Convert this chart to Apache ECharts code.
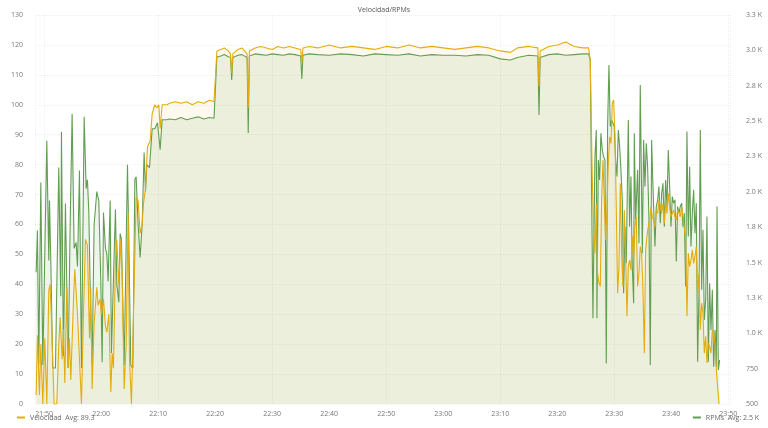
<!DOCTYPE html>
<html>
<head>
<meta charset="utf-8">
<script src="https://cdn.jsdelivr.net/npm/echarts@6/dist/echarts.min.js"></script>
<style>html,body{margin:0;padding:0;background:#fff}#chart{width:768px;height:428px}</style>
</head>
<body>
<div id="chart"></div>
<script>
// x values are minutes after 21:50
var xTicks = [0, 10, 20, 30, 40, 50, 60, 70, 80, 90, 100, 110, 120];

var velT = [-1.40,-1.17,-0.82,-0.58,-0.23,0.12,0.47,0.82,1.05,1.29,1.52,1.75,2.22,2.57,2.81,3.16,3.39,3.63,3.98,4.21,4.44,4.68,5.15,5.38,5.85,6.20,6.55,6.90,7.25,7.60,7.95,8.19,8.42,8.77,9.24,9.47,9.82,10.06,10.41,10.76,11.00,11.35,11.70,11.93,12.16,12.51,12.75,13.10,13.45,13.68,14.04,14.39,14.74,14.97,15.32,15.67,16.14,16.49,16.84,17.19,17.43,17.78,18.13,18.36,18.60,18.95,19.42,19.77,20.12,20.35,20.70,21.52,
  22,23,24,25,26,27,28,29,29.8,30.3,31,31.6,32.3,32.7,32.9,33.1,34,34.7,35.6,35.8,36.0,37,38,39,40,41,42,43,44,45.0,45.2,45.4,46.5,48,50,52,54,56,58,60,62,64,66,68,70,72,74,76,78,80,81.8,83,85,86.6,86.8,87.0,88.5,90,91.5,93,94.5,95.5,
  95.79,96.14,96.38,96.61,96.85,97.08,97.31,97.55,97.78,98.02,98.25,98.48,98.72,98.95,99.19,99.42,99.65,99.89,100.12,100.35,100.59,100.82,101.06,101.29,101.52,101.76,101.99,102.23,102.46,102.69,102.93,103.16,103.40,103.63,103.86,104.10,104.33,104.56,104.80,105.03,105.27,105.50,105.73,105.97,106.20,106.44,106.67,106.90,107.14,107.37,107.61,107.84,108.07,108.31,108.54,108.78,109.01,109.24,109.48,109.71,109.95,110.18,110.41,110.65,110.88,111.11,111.35,111.58,111.82,112.05,112.52,112.75,112.99,113.22,113.45,113.69,113.92,114.16,114.39,114.62,114.86,115.09,115.33,115.56,115.79,116.03,116.26,116.50,116.73,116.96,117.20,117.43,117.67,117.90,118.13,118.37];
var vel = [3,23,3,20,0,22,0,38,40,28,28,0,0,20,29,15,25,7,39,12,22,8,35,45,30,30,0,30,55,53,22,39,5,27,39,33,35,30,35,26,24,30,4,17,12,48,55,40,55,43,5,20,64,15,0,0,69,68,57,60,67,72,86,87,88,97,100,99,100,92,100,100,
  100.5,101,100.5,101,100,101,100.5,101.5,101,118,118.5,119,118,117,110.6,117,118.5,119,117,99,118,119,119.5,119,118.5,119.5,119,119.5,119,118.5,114,119,119.5,119,120,119,119.5,119,118.5,119.5,119,120,119,119.5,119,118.5,119,119.5,119,118,117.5,119,119.5,119,106,118,119.5,120,121,119.5,119,119,
  115,76,59.3,50.4,67,43.7,40.4,39.3,68.2,81.5,68.2,54.8,64.8,80.4,89.3,87.1,100.5,101.6,90,65.9,37,45.9,73.7,50.4,39.3,64.8,50.4,29.3,45.9,48.1,44.8,56,48.1,59.3,62.6,39.3,43.7,52.6,50.4,38.1,17,51.5,56,59.3,61.5,65.9,62.6,61.5,59.3,64.8,63.7,68.2,65.9,63.7,67,60.4,68.2,63.7,70.4,65.9,62.6,63.7,64.8,62.6,61.5,64.8,63.7,62.6,65.9,62.6,54.8,29.3,50.4,45.9,48.1,51.5,47,49.3,52.6,37,43.7,24.8,33.7,30.4,17,22.6,13.7,20.4,19.3,17,24.8,23.7,20.4,11.5,11.5,0];

var rpmT = [-1.40,-1.17,-0.94,-0.58,-0.23,0.12,0.47,0.82,0.94,1.17,1.52,1.99,2.34,2.57,2.92,3.04,3.39,3.74,4.21,4.56,4.91,5.26,5.61,5.85,6.20,6.55,7.02,7.37,7.60,7.84,8.19,8.42,8.77,9.24,9.59,9.94,10.18,10.41,10.76,11.00,11.23,11.58,11.81,12.16,12.51,12.75,13.10,13.33,13.57,14.04,14.62,14.85,15.20,15.56,15.91,16.14,16.49,16.84,17.19,17.54,17.78,18.01,18.48,18.95,19.42,19.88,20.35,20.70,21.52,
  22,23,24,25,26,27,28,29,29.8,30.3,31,31.6,32.3,32.7,32.9,33.1,34,34.7,35.6,35.8,36.0,37,38,39,40,41,42,43,44,45.0,45.2,45.4,46.5,48,50,52,54,56,58,60,62,64,66,68,70,72,74,76,78,80,81.8,83,85,86.6,86.8,87.0,88.5,90,91.5,93,94.5,95.5,
  95.79,96.26,96.61,96.85,96.96,97.20,97.43,97.66,97.90,98.13,98.37,98.60,98.83,99.07,99.30,99.54,99.77,100.00,100.24,100.47,100.71,100.94,101.17,101.41,101.64,101.88,102.11,102.46,102.69,102.93,103.16,103.40,103.51,103.75,104.10,104.33,104.56,104.92,105.15,105.38,105.62,105.85,106.09,106.32,106.55,106.79,107.14,107.37,107.61,107.84,108.07,108.31,108.54,108.78,109.01,109.24,109.48,109.71,109.95,110.18,110.41,110.65,110.88,111.11,111.35,111.58,111.82,112.05,112.28,112.52,112.75,112.99,113.22,113.45,113.69,113.92,114.16,114.39,114.62,114.86,115.09,115.33,115.56,115.79,116.03,116.26,116.50,116.73,116.96,117.20,117.43,117.67,117.90,118.02,118.25,118.48];
var rpm = [1431,1727,775,2065,775,775,2361,1515,1938,1515,754,754,754,2171,1261,2425,838,1917,754,1748,2552,1600,1642,1473,2150,754,2530,2023,2086,1854,1092,775,1769,2002,1938,1367,796,1854,1600,1558,1367,1938,860,1388,1875,1346,1219,1706,1663,775,2192,1684,775,754,2086,2107,1769,1536,1769,2277,2002,2192,2171,2446,2446,2488,2298,2510,2510,
  2515,2510,2525,2510,2520,2530,2515,2525,2520,2953,2960,2970,2955,2950,2790,2950,2965,2970,2950,2416,2960,2975,2970,2965,2975,2970,2965,2975,2970,2960,2797,2965,2975,2970,2965,2975,2970,2960,2975,2970,2965,2975,2960,2970,2965,2965,2960,2970,2965,2940,2932,2950,2965,2960,2543,2950,2970,2975,2965,2970,2975,2975,
  2932,1106,2249,2437,1106,2225,2084,2414,2296,2249,2225,787,2461,2897,2461,2508,2508,2461,2225,2108,2437,2320,2155,1943,1283,1754,1495,2508,1754,2108,1472,1212,2414,1802,2155,1637,2755,1566,2367,2037,2343,2178,1802,775,2367,2037,1613,1896,1943,2037,1778,1990,2061,1754,2084,1896,2296,2037,1754,1967,1920,1943,1507,1896,1849,1896,1920,1754,1849,1330,2426,1684,2178,1613,1849,2014,1707,1920,799,1283,2437,1307,1731,1094,1236,1826,799,1354,1023,1307,764,1023,764,1896,740,811];

function pairs(t, v) {
  var out = [];
  for (var i = 0; i < t.length; i++) out.push([t[i], v[i]]);
  return out;
}
function clock(m) {
  var total = 21 * 60 + 50 + Math.round(m);
  var h = Math.floor(total / 60) % 24, mm = total % 60;
  return h + ':' + (mm < 10 ? '0' : '') + mm;
}

var myChart = echarts.init(document.getElementById('chart'));
var labelStyle = {color: '#777', fontSize: 7, fontFamily: 'Open Sans'};

var option = {
  animation: false,
  title: {
    text: 'Velocidad/RPMs', left: 'center', top: 1,
    textStyle: {fontSize: 7, fontWeight: 'normal', color: '#555', fontFamily: 'Open Sans'}
  },
  grid: {left: 35, right: 38, top: 15, bottom: 24, outerBoundsMode: 'none', containLabel: false},
  legend: [
    {data: ['Velocidad'], left: 12, bottom: 2, itemWidth: 8, itemHeight: 2, icon: 'rect',
     formatter: '{name}  Avg: 89.3', textStyle: {fontSize: 7, color: '#666', fontFamily: 'Open Sans'}},
    {data: ['RPMs'], right: 4, bottom: 2, itemWidth: 8, itemHeight: 2, icon: 'rect',
     formatter: '{name}  Avg: 2.5 K', textStyle: {fontSize: 7, color: '#666', fontFamily: 'Open Sans'}}
  ],
  xAxis: {
    type: 'value', min: -1.6, max: 120.3,
    axisLine: {show: false}, axisTick: {show: false},
    axisLabel: Object.assign({customValues: xTicks, formatter: clock, margin: 6}, labelStyle),
    splitLine: {show: true, lineStyle: {color: '#f0f0f0', type: 'dotted'}}
  },
  yAxis: [
    {type: 'value', min: 0, max: 130, interval: 10, name: 'km/h', nameLocation: 'middle', nameGap: 22,
     nameTextStyle: {fontSize: 7, color: '#777'},
     axisLine: {show: false}, axisTick: {show: false}, axisLabel: Object.assign({margin: 12}, labelStyle),
     splitLine: {lineStyle: {color: '#f0f0f0', type: 'dotted'}}},
    {type: 'value', min: 500, max: 3250, interval: 250, name: 'RPM', nameLocation: 'middle', nameGap: 28,
     nameRotate: -90, nameTextStyle: {fontSize: 7, color: '#777'},
     axisLine: {show: false}, axisTick: {show: false}, splitLine: {show: false},
     axisLabel: Object.assign({margin: 16, formatter: function (v) {
       return v < 1000 ? String(v) : (v / 1000).toFixed(1) + ' K';
     }}, labelStyle)}
  ],
  series: [
    {name: 'RPMs', type: 'line', yAxisIndex: 1, data: pairs(rpmT, rpm), showSymbol: false,
     lineStyle: {color: '#629e51', width: 1.1}, itemStyle: {color: '#629e51'},
     areaStyle: {color: 'rgba(98,158,81,0.15)'}},
    {name: 'Velocidad', type: 'line', yAxisIndex: 0, data: pairs(velT, vel), showSymbol: false,
     lineStyle: {color: '#e5ac0e', width: 1.1}, itemStyle: {color: '#e5ac0e'},
     areaStyle: {color: 'rgba(229,172,14,0.1)'}}
  ]
};

myChart.setOption(option);
</script>
</body>
</html>
